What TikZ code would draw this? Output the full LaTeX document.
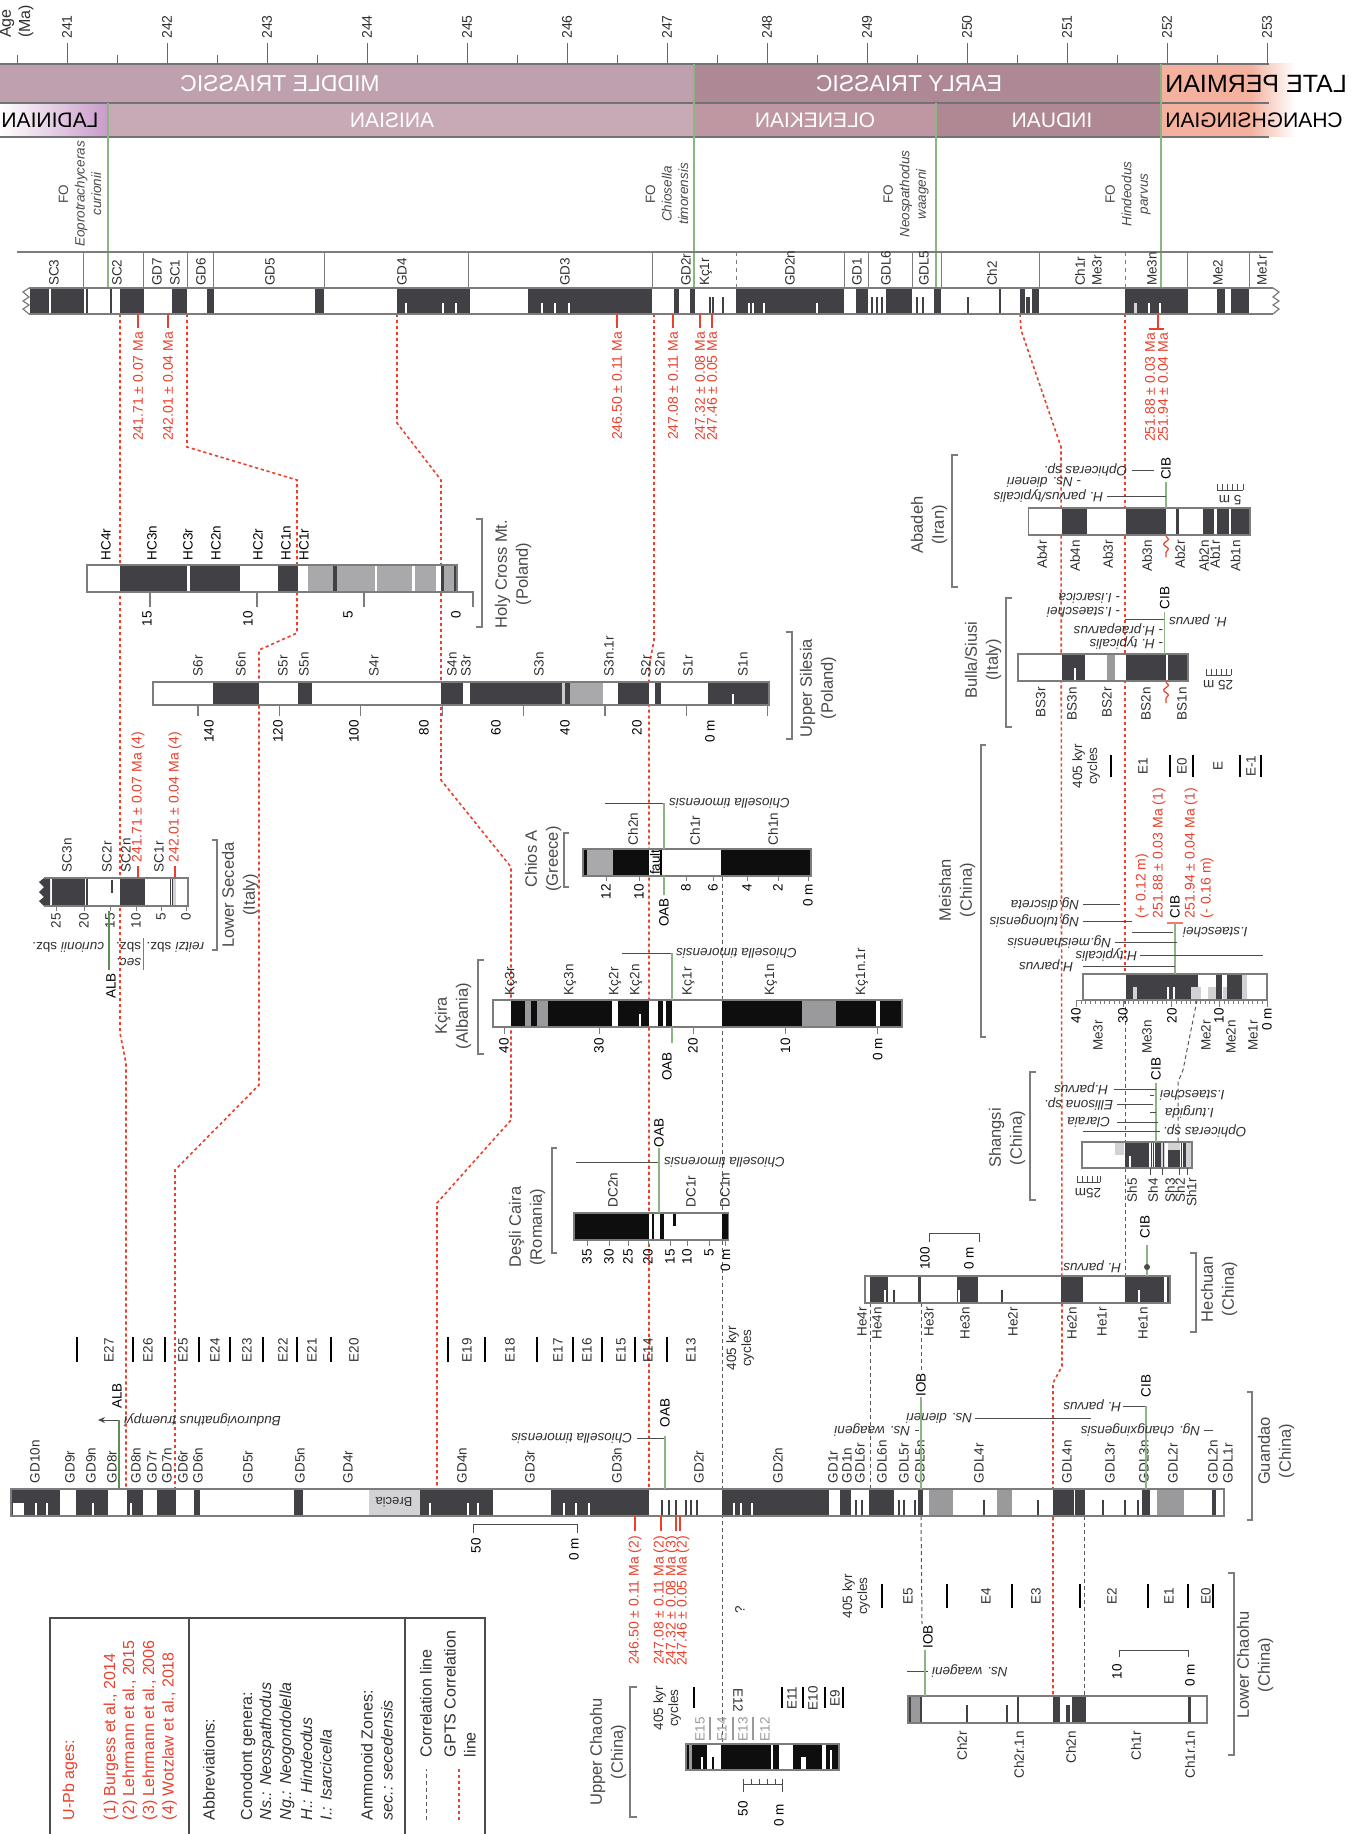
\documentclass[tikz,border=0pt]{standalone}
\usepackage{fontspec}
\setmainfont{Liberation Sans}
\usetikzlibrary{decorations.pathmorphing,arrows.meta}
\definecolor{blk}{HTML}{414145}
\definecolor{pblk}{HTML}{0E0E0E}
\definecolor{gry}{HTML}{A9A9AC}
\definecolor{mgry}{HTML}{9A9A9C}
\definecolor{lgry}{HTML}{D2D2D4}
\definecolor{outl}{HTML}{7C7C7C}
\definecolor{redc}{HTML}{E8412E}
\definecolor{grn}{HTML}{8DB584}
\definecolor{dgrn}{HTML}{5E8F52}
\definecolor{txtg}{HTML}{4A4A4A}
\definecolor{labc}{HTML}{303030}
\definecolor{mtri}{HTML}{BFA0AE}
\definecolor{anis}{HTML}{C8A9B6}
\definecolor{etri}{HTML}{AE8895}
\definecolor{olen}{HTML}{BE97A2}
\definecolor{indu}{HTML}{B08893}
\definecolor{perm}{HTML}{F3B19E}
\definecolor{ladi}{HTML}{C99AC9}
\newcount\zcnt
\newcommand\zT[3][]{\global\advance\zcnt by 1\relax\node[#1] (n\the\zcnt) at (#2) {#3};}
\newcommand\zblocks[4]{\foreach \a/\b in {#4}{\fill[#1] (\a,#2) rectangle (\b,#3);}}
\newcommand\zplines[5]{\foreach \a in {#5}{\fill[#1] (\a-#4,#2) rectangle (\a+#4,#3);}}
\newcommand\zbox[4]{\fill[white] (#1,#3) rectangle (#2,#4);}
\newcommand\zout[4]{\draw[outl,line width=0.6pt] (#1,#3) rectangle (#2,#4);}
\begin{document}
\begin{tikzpicture}[x=0.5pt,y=-0.5pt,
  every node/.style={inner sep=0pt, outer sep=0pt},
  xlab/.style={font=\fontsize{6.75}{7.5}\selectfont, text=labc},
  xup/.style={rotate=90, anchor=west},
  xdn/.style={rotate=90, anchor=east},
  xmid/.style={rotate=90},
  xsp/.style={rotate=180, font=\fontsize{6.75}{7.5}\selectfont\itshape, text=labc},
  xspl/.style={xsp, anchor=west},
  xspr/.style={xsp, anchor=east},
  xred/.style={font=\fontsize{7}{8}\selectfont, text=redc},
  xttl/.style={rotate=90, align=center, font=\fontsize{8.25}{10.5}\selectfont, text=txtg},
  xleg/.style={rotate=90, anchor=west, font=\fontsize{8}{9}\selectfont},
  gpts/.style={redc, line width=0.8pt, dash pattern=on 1.6pt off 1.4pt},
  corr/.style={black!65, line width=0.5pt, dash pattern=on 2pt off 1.5pt},
  brk/.style={outl, line width=0.6pt},
  grl/.style={grn, line width=0.6pt},
  mk/.style={black!70, line width=0.5pt},
]
\useasboundingbox (0,0) rectangle (1364,1834);
\fill[white] (0,0) rectangle (1364,1834);

% ================= HEADER =================
\fill[mtri] (0,64) rectangle (694,103);
\fill[etri] (694,64) rectangle (1161,103);
\fill[perm] (1161,64) rectangle (1250,137);
\shade[left color=perm, right color=white] (1250,64) rectangle (1295,137);
\shade[left color=white, right color=ladi] (0,103) rectangle (108,137);
\fill[anis] (108,103) rectangle (694,137);
\fill[olen] (694,103) rectangle (936,137);
\fill[indu] (936,103) rectangle (1161,137);
\draw[black!55, line width=0.9pt] (0,64) -- (1269,64) (0,103) -- (1269,103) (0,137) -- (1269,137);
\foreach \a in {241,...,253}{
  \draw[black!60, line width=0.5pt] ({67+100*(\a-241)},43) -- ({67+100*(\a-241)},64);
  \zT[rotate=90, font=\fontsize{7}{8}\selectfont, text=labc]{{67+100*(\a-241)},27}{\a}
}
\foreach \a in {240.5,241.5,...,252.5}{
  \draw[black!60, line width=0.5pt] ({67+100*(\a-241)},55) -- ({67+100*(\a-241)},64);
}
\zT[xup, font=\fontsize{8}{9}\selectfont, text=labc]{7,38}{Age}
\zT[xup, font=\fontsize{8}{9}\selectfont, text=labc]{26,38}{(Ma)}

\zT[xscale=-1, text=white, font=\fontsize{11.5}{12}\selectfont]{280,84}{MIDDLE TRIASSIC}
\zT[xscale=-1, text=white, font=\fontsize{11.5}{12}\selectfont]{909,84}{EARLY TRIASSIC}
\zT[xscale=-1, text=black, font=\fontsize{12.5}{13}\selectfont]{1256,84}{LATE PERMIAN}
\zT[xscale=-1, text=black, font=\fontsize{10.5}{11}\selectfont]{50,120}{LADINIAN}
\zT[xscale=-1, text=white, font=\fontsize{10.5}{11}\selectfont]{392,120}{ANISIAN}
\zT[xscale=-1, text=white, font=\fontsize{10.5}{11}\selectfont]{815,120}{OLENEKIAN}
\zT[xscale=-1, text=white, font=\fontsize{10.5}{11}\selectfont]{1052,120}{INDUAN}
\zT[xscale=-1, text=black, font=\fontsize{10.5}{11}\selectfont]{1254,120}{CHANGHSINGIAN}

\draw[grl] (108,103) -- (108,288) (694,64) -- (694,288) (936,103) -- (936,288) (1161,64) -- (1161,288);

\zT[xmid, align=center, font=\fontsize{6.75}{8.25}\selectfont, text=txtg]{80,194}{FO\\\textit{Eoprotrachyceras}\\\textit{curionii}}
\zT[xmid, align=center, font=\fontsize{6.75}{8.25}\selectfont, text=txtg]{667,194}{FO\\\textit{Chiosella}\\\textit{timorensis}}
\zT[xmid, align=center, font=\fontsize{6.75}{8.25}\selectfont, text=txtg]{906,194}{FO\\\textit{Neospathodus}\\\textit{waageni}}
\zT[xmid, align=center, font=\fontsize{6.75}{8.25}\selectfont, text=txtg]{1128,194}{FO\\\textit{Hindeodus}\\\textit{parvus}}

% ================= CORRELATION LINES =================
\draw[gpts] (120,314) -- (120,1033) -- (126,1063) -- (126,1489);
\draw[gpts] (187,314) -- (187,447) -- (297,480) -- (297,633) -- (259,650) -- (259,1085) -- (175,1170) -- (175,1489);
\draw[gpts] (397,314) -- (397,423) -- (441,480) -- (441,780) -- (511,867) -- (511,1120) -- (437,1203) -- (437,1489);
\draw[gpts] (654,314) -- (654,640) -- (649,667) -- (649,1489);
\draw[gpts] (1020,314) -- (1021,330) -- (1061,447) -- (1062,1366) -- (1053,1383) -- (1053,1696);
\draw[gpts] (1125,314) -- (1125,974);
\draw[corr] (722,849) -- (722,1744);
\draw[corr] (1125,1000) -- (1125,1276);
\draw[corr] (1197,1000) -- (1183,1070) -- (1178,1082) -- (1178,1142);
\draw[corr] (870,1303) -- (870,1489);
\draw[corr] (921,1303) -- (921,1372);
\draw[corr] (921,1516) -- (922,1624);
\draw[corr] (1084,1516) -- (1084,1696);

% ================= GPTS COLUMN =================
\draw[outl, line width=0.6pt] (17,252) -- (1273,252);
\foreach \x in {83.5,143.5,187.4,213.5,324,468.7,652,844,868,912,941,1039,1187,1249}{\draw[outl,line width=0.5pt] (\x,252) -- (\x,288);}
\draw[outl, line width=0.5pt, dash pattern=on 2pt off 2pt] (736,252) -- (736,288) (1125,252) -- (1125,288);
\zbox{29}{1273}{288}{314}
\zblocks{blk}{288}{314}{29.6/49,51/84,86/88,110/112,120/143.5,172/187,206.5/213.5,315/324,397/470,528/652,674/679,690/695,736/844,856/868,886/912,934/941,999/1001,1020/1025,1032/1039,1125/1188,1217/1225,1231/1249}
\zplines{white}{303}{314}{1.2}{406,443,456,542,555,569,749,753,764,817,1149,1160}
\zplines{blk}{297}{314}{0.8}{710,713,723,872,877,882,917,923,968,1027,1029}
\fill[lgry] (1134,303) rectangle (1137,314);
\draw[outl, line width=0.6pt] (29,288) -- (1273,288) (29,314) -- (1273,314);
\draw[outl, line width=0.6pt] (29,288) -- (23,292) -- (29,297) -- (23,301) -- (29,305) -- (23,309) -- (29,314);
\draw[outl, line width=0.6pt] (1273,288) -- (1279,292) -- (1273,297) -- (1279,301) -- (1273,305) -- (1279,309) -- (1273,314);
\foreach \x/\t in {54/SC3,117/SC2,157/GD7,175/SC1,201/GD6,270/GD5,402/GD4,565/GD3,686/GD2r,706/Kç1r,790/GD2n,857/GD1,886/GDL6,924/GDL5,992/Ch2,1080/Ch1r,1097/Me3r,1152/Me3n,1218/Me2,1262/Me1r}{\zT[xlab,xup]{\x,286}{\t}}

\foreach \x in {138,168,617,673,700,712}{\draw[redc, line width=0.6pt] (\x,314) -- (\x,328);}
\draw[redc,line width=0.6pt] (1158,314) -- (1158,329) (1149,329) -- (1164,329);
\zT[xred,xdn]{138,332}{241.71 ± 0.07 Ma}
\zT[xred,xdn]{168,332}{242.01 ± 0.04 Ma}
\zT[xred,xdn]{617,332}{246.50 ± 0.11 Ma}
\zT[xred,xdn]{673,332}{247.08 ± 0.11 Ma}
\zT[xred,xdn]{700,332}{247.32 ± 0.08 Ma}
\zT[xred,xdn]{712,332}{247.46 ± 0.05 Ma}
\zT[xred,xdn]{1150,333}{251.88 ± 0.03 Ma}
\zT[xred,xdn]{1163,333}{251.94 ± 0.04 Ma}

% ================= HOLY CROSS =================
\zbox{87}{457}{565}{592}
\zblocks{blk}{565}{592}{119.6/187,190.4/240,278/298,333/337,441/444,454/457}
\zblocks{gry}{565}{592}{308/333,337/375,377/412,415/436,444/454}
\zout{87}{457}{565}{592}
\foreach \x/\t in {106/HC4r,152/HC3n,188/HC3r,216/HC2n,258/HC2r,286/HC1n,304/HC1r}{\zT[xlab,xup,text=black]{\x,560}{\t}}
\draw[outl,line width=0.6pt] (457,592) -- (473,592) -- (473,607);
\foreach \x in {150,257,364}{\draw[outl,line width=0.6pt] (\x,592) -- (\x,607);}
\foreach \x/\t in {147/15,248/10,348/5,456/0}{\zT[xlab,xdn,text=black]{\x,611}{\t}}
\draw[brk] (476,519) -- (482,519) -- (482,627) -- (476,627);
\zT[xttl]{513,574}{Holy Cross Mt.\\(Poland)}

% ================= UPPER SILESIA =================
\zbox{153}{769}{682}{705}
\zblocks{blk}{682}{705}{213/259,298/312,441/463,470/562,565/570,618/649,655/661,708/769}
\zblocks{gry}{682}{705}{570/603}
\fill[gry!60] (562,682) rectangle (565,705);
\zplines{white}{694}{705}{1.2}{733}
\zout{153}{769}{682}{705}
\foreach \x/\t in {198/S6r,241/S6n,283/S5r,304/S5n,374/S4r,452/S4n,466/S3r,539/S3n,609/S3n.1r,646/S2r,660/S2n,688/S1r,743/S1n}{\zT[xlab,xup]{\x,676}{\t}}
\foreach \i in {0,...,7}{\draw[outl,line width=0.6pt] ({198+81.4*\i},705) -- ({198+81.4*\i},716);}
\foreach \x/\t in {209/140,278/120,354/100,424/80,496/60,565/40,637/20,710/0 m}{\zT[xlab,xdn,text=black]{\x,720}{\t}}
\draw[brk] (786,632) -- (792,632) -- (792,739) -- (786,739);
\zT[xttl]{818,688}{Upper Silesia\\(Poland)}

% ================= LOWER SECEDA =================
\zbox{44}{188}{878}{906}
\fill[blk] (44,878) -- (39,882) -- (44,887) -- (39,892) -- (44,897) -- (39,901) -- (44,906) -- (50,906) -- (50,878) -- cycle;
\zblocks{blk}{878}{906}{52/85,86/88,120/145,169.5/170.5,172/173}
\fill[blk] (111,880) rectangle (113,893);
\fill[lgry] (173,878) rectangle (176,906);
\draw[outl,line width=0.6pt] (44,878) -- (188,878) -- (188,906) -- (44,906);
\foreach \x/\t in {67/SC3n,107/SC2r,126/SC2n,159/SC1r}{\zT[xlab,xup]{\x,872}{\t}}
\draw[redc,line width=0.6pt] (138,866) -- (138,878) (175,866) -- (175,878);
\zT[xred,xup]{138,862}{241.71 ± 0.07 Ma (4)}
\zT[xred,xup]{175,862}{242.01 ± 0.04 Ma (4)}
\foreach \x/\t in {56/25,84/20,110/15,136/10,161/5,186/0}{\draw[outl,line width=0.5pt] (\x,906) -- (\x,911); \zT[xlab,xdn]{\x,913}{\t}}
\draw[dgrn,line width=0.7pt] (109,911) -- (109,970);
\draw[outl,line width=0.5pt] (143.5,938) -- (143.5,970);
\zT[xspl]{104,947}{curionii \textup{sbz.}}
\zT[xspl]{141,947}{\textup{sbz.}}
\zT[xspl]{141,962}{sec.}
\zT[xspl]{204,947}{reitzi \textup{sbz.}}
\zT[xlab,xmid,text=black]{111,986}{ALB}
\draw[brk] (212,840) -- (217,840) -- (217,950) -- (212,950);
\zT[xttl]{240,895}{Lower Seceda\\(Italy)}

% ================= CHIOS A =================
\zbox{583}{811}{849}{876}
\zblocks{pblk}{849}{876}{583/587,613/649,721/811}
\zblocks{gry}{849}{876}{587/613}
\draw[black, line width=0.6pt] (661,849) -- (661,876);
\zT[rotate=90, font=\fontsize{6.75}{7.5}\selectfont]{655,862}{fault}
\zout{583}{811}{849}{876}
\foreach \x/\t in {633/Ch2n,695/Ch1r,773/Ch1n}{\zT[xlab,xup]{\x,845}{\t}}
\foreach \x/\t in {606/12,639/10,686/8,713/6,747/4,778/2,808/0 m}{\draw[outl,line width=0.5pt] (\x,876) -- (\x,881); \zT[xlab,xdn,text=black]{\x,884}{\t}}
\draw[mk] (605,803) -- (665,803);
\zT[xspr]{669,803}{Chiosella timorensis}
\draw[grl] (664,803) -- (664,849) (664,876) -- (664,895);
\zT[xlab,xdn,text=black]{664,898}{OAB}
\draw[brk] (569,833) -- (564,833) -- (564,887) -- (569,887);
\zT[xttl]{543,859}{Chios A\\(Greece)}

% ================= KCIRA =================
\zbox{493}{902}{1000}{1027}
\zblocks{pblk}{1000}{1027}{511/525,531/537,548/612,618/649,658/663,666/672,722/802,836/876,880/902}
\zblocks{mgry}{1000}{1027}{525/531,537/548,802/836}
\zplines{white}{1014}{1027}{1}{640}
\zout{493}{902}{1000}{1027}
\foreach \x/\t in {511/Kç3r,570/Kç3n,615/Kç2r,636/Kç2n,688.5/Kç1r,771/Kç1n,862/Kç1n.1r}{\zT[xlab,xup]{\x,995}{\t}}
\foreach \x/\t in {504/40,599/30,693/20,785.5/10,877.6/0 m}{\draw[outl,line width=0.5pt] (\x,1027) -- (\x,1034); \zT[xlab,xdn,text=black]{\x,1038}{\t}}
\draw[mk] (622,953) -- (672,953);
\zT[xspr]{676,953}{Chiosella timorensis}
\draw[grl] (672,953) -- (672,1000) (672,1027) -- (672,1043);
\zT[xlab,xdn,text=black]{667,1052}{OAB}
\draw[brk] (484,960) -- (478,960) -- (478,1054) -- (484,1054);
\zT[xttl]{453,1016}{Kçira\\(Albania)}

% ================= DESLI CAIRA =================
\zbox{574}{728.5}{1213}{1240}
\zblocks{pblk}{1213}{1240}{574/649,652/654,660/664,722/728.5}
\fill[pblk] (673,1213) rectangle (676,1226);
\zout{574}{728.5}{1213}{1240}
\foreach \x/\t in {613/DC2n,691/DC1r,725/DC1n}{\zT[xlab,xup]{\x,1207}{\t}}
\foreach \x/\t in {587/35,609/30,628/25,648/20,670/15,687/10,709/5,725.5/0 m}{\draw[outl,line width=0.5pt] (\x,1240) -- (\x,1246); \zT[xlab,xdn,text=black]{\x,1249}{\t}}
\draw[mk] (576,1162) -- (659,1162);
\zT[xspr]{664,1162}{Chiosella timorensis}
\draw[grl] (659,1148) -- (659,1213);
\zT[xlab,xup,text=black]{659,1147}{OAB}
\draw[brk] (557,1148) -- (552,1148) -- (552,1253) -- (557,1253);
\zT[xttl]{527,1227}{Deşli Caira\\(Romania)}

% ================= ABADEH =================
\zbox{1028.5}{1250}{508}{535}
\zblocks{blk}{508}{535}{1062/1087,1126/1166,1176/1179,1202.5/1213.5,1217/1229,1231/1250}
\zout{1028.5}{1250}{508}{535}
\foreach \x/\t in {1042/Ab4r,1075/Ab4n,1108/Ab3r,1147/Ab3n,1180/Ab2r,1204/Ab2n,1215/Ab1r,1235.5/Ab1n}{\zT[xlab,xdn]{\x,540}{\t}}
\draw[redc, line width=0.6pt, decorate, decoration={snake, amplitude=1.2pt, segment length=5pt}] (1166,536) -- (1166,557);
\draw[grl] (1166,482) -- (1166,508);
\zT[xlab,xup,text=black]{1166,480}{CIB}
\draw[mk] (1107,496) -- (1166,496);
\zT[xspl]{1103,496}{H. parvus/typicalis}
\zT[xspl]{1081,482}{\textup{-} Ns. dieneri}
\zT[xspl]{1127,470}{Ophiceras sp.}
\draw[mk] (1132,470) -- (1154,470);
\draw[mk] (1217,490) -- (1243,490);
\foreach \x in {1217,1222,1227,1232,1237,1243}{\draw[mk] (\x,484) -- (\x,490);}
\zT[rotate=180, font=\fontsize{6.75}{7.5}\selectfont, text=labc]{1230,500}{5 m}
\draw[brk] (958,455) -- (952,455) -- (952,587) -- (958,587);
\zT[xttl]{929,525}{Abadeh\\(Iran)}

% ================= BULLA / SIUSI =================
\zbox{1018}{1188}{654}{681}
\zblocks{blk}{654}{681}{1062/1085,1126/1166,1167.5/1188}
\zblocks{mgry}{654}{681}{1107/1115}
\zplines{white}{668}{681}{1}{1075}
\zout{1018}{1188}{654}{681}
\foreach \x/\t in {1040.7/BS3r,1072/BS3n,1107/BS2r,1146/BS2n,1182/BS1n}{\zT[xlab,xdn]{\x,687}{\t}}
\draw[redc, line width=0.6pt, decorate, decoration={snake, amplitude=1.2pt, segment length=5pt}] (1166,682) -- (1166,703);
\draw[grl] (1164.6,612) -- (1164.6,654);
\zT[xlab,xup,text=black]{1164.6,609}{CIB}
\zT[xspl]{1120,598}{\textup{-} I.isarcica}
\zT[xspl]{1120,612}{\textup{-} I.staeschei}
\draw[mk] (1125,619) -- (1164,619);
\zT[xspr]{1169,621}{H. parvus}
\zT[xspl]{1163,630}{\textup{-} H.praeparvus}
\zT[xspl]{1163,643}{\textup{-} H. typicalis}
\draw[mk] (1206,675) -- (1231,675);
\foreach \x in {1206,1211,1216,1221,1226,1231}{\draw[mk] (\x,669) -- (\x,675);}
\zT[rotate=180, font=\fontsize{6.75}{7.5}\selectfont, text=labc]{1218,685}{25 m}
\draw[brk] (1012,598) -- (1006,598) -- (1006,727) -- (1012,727);
\zT[xttl]{983,660}{Bulla/Siusi\\(Italy)}

% ================= MEISHAN =================
\foreach \x/\t in {1143/E1,1182/E0,1218/E,1251/E-1}{\zT[xlab,xmid]{\x,766}{\t}}
\foreach \x in {1111,1170,1193,1240,1261}{\draw[black, line width=0.6pt] (\x,755) -- (\x,777);}
\zT[xlab,xmid,align=center]{1086,766}{405 kyr\\cycles}
\zbox{1083}{1267}{974}{1000}
\zblocks{blk}{974}{1000}{1126/1198,1216/1222,1227/1242}
\zblocks{lgry}{987}{1000}{1133/1137,1191/1201,1208/1216,1223/1227}
\zblocks{lgry}{974}{1000}{1242/1247}
\zplines{white}{987}{1000}{1}{1168,1174}
\zout{1083}{1267}{974}{1000}
\draw[outl,line width=0.5pt] (1076,1000) -- (1267,1000);
\foreach \i in {0,...,40}{\draw[outl,line width=0.4pt] ({1267-4.77*\i},1000) -- ({1267-4.77*\i},1004);}
\foreach \i in {0,10,20,30,40}{\draw[outl,line width=0.5pt] ({1267-4.77*\i},1000) -- ({1267-4.77*\i},1007);}
\foreach \x/\t in {1076/40,1123/30,1172/20,1219/10,1267/0 m}{\zT[xlab,xdn,text=black]{\x,1008}{\t}}
\foreach \x/\t in {1098/Me3r,1147/Me3n,1206/Me2r,1231/Me2n,1253/Me1r}{\zT[xlab,xdn]{\x,1020}{\t}}
\zT[xred,xup]{1142,918}{(+ 0.12 m)}
\zT[xred,xup]{1159,918}{251.88 ± 0.03 Ma (1)}
\zT[xlab,xup,text=black]{1175,918}{CIB}
\zT[xred,xup]{1191,918}{251.94 ± 0.04 Ma (1)}
\zT[xred,xup]{1207,918}{(- 0.16 m)}
\draw[redc!70, line width=1pt] (1167,923) -- (1183,923);
\draw[grl] (1175,923) -- (1175,974);
\draw[mk] (1083,904) -- (1120,904);
\zT[xspl]{1079,904}{Ng.discreta}
\draw[mk] (1083,921) -- (1132,921);
\zT[xspl]{1079,921}{Ng.tulongensis}
\draw[mk] (1132,932) -- (1173,932);
\zT[xspr]{1183,932}{I.staeschei}
\draw[mk] (1115,942) -- (1177,942);
\zT[xspl]{1111,942}{Ng.meishanensis}
\draw[mk] (1140,955) -- (1263,955);
\zT[xspl]{1137,955}{H.typicalis}
\draw[mk] (1083,966) -- (1175,966);
\zT[xspl]{1073,966}{H.parvus}
\draw[brk] (986,745) -- (981,745) -- (981,1037) -- (986,1037);
\zT[xttl]{957,890}{Meishan\\(China)}

% ================= SHANGSI =================
\zbox{1082}{1192}{1142}{1168}
\fill[lgry] (1115,1142) rectangle (1124,1155);
\zblocks{blk}{1142}{1168}{1125/1149,1155/1161,1183/1186}
\fill[blk] (1168,1150) rectangle (1180,1168);
\zblocks{lgry}{1142}{1168}{1161/1165,1186/1192}
\fill[lgry] (1168,1142) rectangle (1180,1150);
\zplines{blk}{1142}{1168}{0.4}{1151,1153,1163,1181}
\zplines{white}{1156}{1168}{0.8}{1130}
\zout{1082}{1192}{1142}{1168}
\foreach \x in {1150,1162,1179,1187}{\draw[mk] (\x,1168) -- (\x,1175);}
\foreach \x/\t in {1132/Sh5,1153/Sh4,1170/Sh3,1180/Sh2,1191.5/Sh1r}{\zT[xlab,xdn]{\x,1178}{\t}}
\draw[mk] (1077,1182) -- (1100,1182);
\foreach \x in {1077,1082,1087,1092,1097,1100}{\draw[mk] (\x,1176) -- (\x,1182);}
\zT[rotate=180, font=\fontsize{6.75}{7.5}\selectfont, text=labc]{1088,1193}{25m}
\draw[grl] (1156,1083) -- (1156,1142);
\zT[xlab,xup,text=black]{1156,1080}{CIB}
\draw[mk] (1114,1089) -- (1156,1089);
\zT[xspl]{1108,1089}{H.parvus}
\draw[mk] (1150,1095) -- (1154,1095);
\zT[xspr]{1160,1095}{I.staeschei}
\draw[mk] (1117,1104) -- (1153,1104);
\zT[xspl]{1113,1104}{Ellisona sp.}
\draw[mk] (1150,1112) -- (1156,1112);
\zT[xspr]{1165,1112}{I.turgida}
\draw[mk] (1117,1122) -- (1158,1122);
\zT[xspl]{1110,1122}{Claraia}
\draw[mk] (1083,1131) -- (1160,1131);
\zT[xspr]{1163,1131}{Ophiceras sp.}
\draw[brk] (1036,1072) -- (1030,1072) -- (1030,1200) -- (1036,1200);
\zT[xttl]{1007,1138}{Shangsi\\(China)}

% ================= HECHUAN =================
\zbox{865}{1170}{1276}{1303}
\zblocks{blk}{1276}{1303}{870/888,918/921,957/978,1061/1083,1125/1164,1167/1170}
\zplines{white}{1290}{1303}{1}{885,959,1139}
\zplines{blk}{1290}{1303}{1}{894,1002}
\zout{865}{1170}{1276}{1303}
\foreach \x/\t in {862/He4r,877/He4n,929/He3r,965/He3n,1013/He2r,1072/He2n,1102/He1r,1143/He1n}{\zT[xlab,xdn]{\x,1307}{\t}}
\draw[mk] (929,1242) -- (929,1233) -- (979,1233) -- (979,1242);
\zT[xlab,xdn,text=black]{925,1247}{100}
\zT[xlab,xdn,text=black]{969,1247}{0 m}
\draw[grl] (1147,1245) -- (1147,1276);
\fill[black!70] (1147,1267) circle (3);
\zT[xlab,xup,text=black]{1145,1238}{CIB}
\zT[xspl]{1121,1267}{H. parvus}
\draw[brk] (1190,1253) -- (1196,1253) -- (1196,1332) -- (1190,1332);
\zT[xttl]{1219,1289}{Hechuan\\(China)}

% ================= GUANDAO =================
\foreach \x in {77,133,165,199,230,263,297,331,448,485,537,573,602,635,667}{\draw[black, line width=0.6pt] (\x,1337) -- (\x,1362);}
\foreach \x/\t in {109/E27,148/E26,183/E25,215/E24,247/E23,283/E22,312/E21,354/E20,467/E19,510/E18,558/E17,587/E16,621/E15,648/E14,691/E13}{\zT[xlab,xmid]{\x,1350}{\t}}
\zT[xlab,xmid,align=center]{740,1348}{405 kyr\\cycles}
\zbox{11}{1224}{1489}{1516}
\zblocks{blk}{1489}{1516}{11/60,76/108,127/143,157/176,194/200,294/303,420/493,551/649,722/829,840/851,869/894,918/923,1053/1074,1075/1085,1142/1150,1212/1216}
\zblocks{mgry}{1489}{1516}{929/953,997/1012,1157/1184}
\fill[lgry] (369,1489) rectangle (420,1516);
\zblocks{white}{1503}{1516}{13/24}
\zplines{white}{1503}{1516}{1.1}{36,47,93,131,430,468,478,564,576,589,734,741,752}
\zplines{blk}{1500}{1516}{1}{662,669,676,686,691,697,856,862,899,904,915,984,1038,1103,1125,1138}
\zout{11}{1224}{1489}{1516}
\zT[rotate=180, font=\fontsize{6.5}{7}\selectfont, text=labc]{394,1502}{Brecia}
\foreach \x/\t in {35/GD10n,70/GD9r,91/GD9n,112/GD8r,136/GD8n,152/GD7r,167/GD7n,183/GD6r,198/GD6n,248/GD5r,300/GD5n,348/GD4r,462/GD4n,530/GD3r,617/GD3n,699/GD2r,778/GD2n,833/GD1r,847/GD1n,860/GDL6r,882/GDL6n,904/GDL5r,920/GDL5n,979/GDL4r,1067/GDL4n,1110/GDL3r,1144/GDL3n,1173/GDL2r,1213/GDL2n,1228/GDL1r}{\zT[xlab,xup]{\x,1483}{\t}}
\draw[mk] (473,1533) -- (473,1524) -- (577,1524) -- (577,1533);
\zT[xlab,xdn,text=black]{476,1538}{50}
\zT[xlab,xdn,text=black]{574,1538}{0 m}
\draw[mk, -{Stealth[length=3.5pt,width=3pt]}] (119,1420) -- (98,1420);
\zT[xspr]{124,1420}{Budurovignathus truempyi}
\draw[dgrn,line width=0.7pt] (119,1420) -- (119,1489);
\zT[xlab,xmid,text=black]{117,1396}{ALB}
\zT[xspl]{632,1438}{Chiosella timorensis}
\draw[mk] (637,1438) -- (665,1438);
\draw[grl] (665,1436) -- (665,1489);
\zT[xlab,xmid,text=black]{665,1413}{OAB}
\zT[xspl]{910,1430}{Ns. waageni}
\draw[mk] (915,1430) -- (919,1430);
\zT[xspl]{972,1418}{Ns. dieneri}
\draw[mk] (975,1418) -- (1091,1418);
\zT[xspl]{1121,1406}{H. parvus}
\draw[mk] (1123,1406) -- (1146,1406);
\draw[grl] (1146,1406) -- (1146,1489);
\zT[xlab,xmid,text=black]{1146,1386}{CIB}
\zT[xspl]{1200,1430}{Ng. changxingensis}
\draw[mk] (1204,1430) -- (1213,1430);
\zT[xlab,xmid,text=black]{921,1385}{IOB}
\draw[grl] (921,1397) -- (921,1489);
\foreach \x in {635,661,676,680}{\draw[redc, line width=0.6pt] (\x,1516) -- (\x,1531);}
\zT[xred,xdn]{635,1536}{246.50 ± 0.11 Ma (2)}
\zT[xred,xdn]{660,1536}{247.08 ± 0.11 Ma (2)}
\zT[xred,xdn]{672,1536}{247.32 ± 0.08 Ma (3)}
\zT[xred,xdn]{683,1536}{247.46 ± 0.05 Ma (2)}
\draw[brk] (1247,1392) -- (1252,1392) -- (1252,1520) -- (1247,1520);
\zT[xttl]{1276,1451}{Guandao\\(China)}

% ================= LOWER CHAOHU =================
\zT[xlab,xmid,align=center]{856,1596}{405 kyr\\cycles}
\foreach \x in {882,947,1012,1080,1148,1188,1213}{\draw[black, line width=0.6pt] (\x,1584) -- (\x,1608);}
\foreach \x/\t in {908/E5,986/E4,1036/E3,1112/E2,1169/E1,1206/E0}{\zT[xlab,xmid]{\x,1596}{\t}}
\zT[rotate=90, font=\fontsize{6.75}{7.5}\selectfont, text=labc]{740,1610}{?}
\zbox{908}{1207}{1696}{1723}
\zblocks{blk}{1696}{1723}{908/911,920/922,1017/1019,1053/1060,1072/1086,1188/1191}
\zblocks{mgry}{1696}{1723}{911/920}
\zplines{blk}{1705}{1723}{0.8}{967,1007,1067,1069}
\zout{908}{1207}{1696}{1723}
\foreach \x/\t in {962/Ch2r,1019/Ch2r.1n,1071/Ch2n,1136/Ch1r,1190/Ch1r.1n}{\zT[xlab,xdn]{\x,1731}{\t}}
\draw[mk] (1119,1657) -- (1119,1650) -- (1188,1650) -- (1188,1657);
\zT[xlab,xdn,text=black]{1117,1664}{10}
\zT[xlab,xdn,text=black]{1190,1664}{0 m}
\draw[mk] (907,1671) -- (928,1671);
\zT[xspr]{932,1671}{Ns. waageni}
\draw[grl] (925,1650) -- (925,1696);
\zT[xlab,xmid,text=black]{928,1637}{IOB}
\draw[brk] (1228,1573) -- (1234,1573) -- (1234,1755) -- (1228,1755);
\zT[xttl]{1255,1665}{Lower Chaohu\\(China)}

% ================= UPPER CHAOHU =================
\zT[xlab,xmid,align=center]{667,1708}{405 kyr\\cycles}
\draw[black, line width=0.6pt] (694,1687) -- (694,1708);
\foreach \x in {782,803,825,843}{\draw[black, line width=0.6pt] (\x,1687) -- (\x,1708);}
\zT[xlab,rotate=-90]{738,1700}{E12}
\foreach \x/\t in {792/E11,813/E10,835/E9}{\zT[xlab,xmid]{\x,1698}{\t}}
\foreach \x in {710,733,753}{\draw[black!40, line width=0.6pt] (\x,1717) -- (\x,1740);}
\foreach \x/\t in {700/E15,722/E14,743/E13,765/E12}{\zT[xlab,xmid,text=black!40]{\x,1729}{\t}}
\zbox{686}{839}{1744}{1770}
\zblocks{pblk}{1744}{1770}{686/689,692/707,721/771,773/779,793/822,826/839}
\zblocks{mgry}{1744}{1770}{689/692}
\zplines{white}{1757}{1770}{1}{702}
\zblocks{white}{1757}{1770}{801/806}
\zplines{pblk}{1757}{1770}{0.8}{713}
\zplines{white}{1750}{1770}{0.8}{831}
\zout{686}{839}{1744}{1770}
\draw[mk] (743,1784) -- (782,1784);
\foreach \x in {751,759,767,775}{\draw[mk] (\x,1779) -- (\x,1784);}
\draw[mk] (743,1779) -- (743,1792) (782,1779) -- (782,1792);
\zT[xlab,xdn,text=black]{743,1801}{50}
\zT[xlab,xdn,text=black]{779,1804}{0 m}
\draw[brk] (637,1687) -- (630,1687) -- (630,1817) -- (637,1817);
\zT[xttl]{608,1752}{Upper Chaohu\\(China)}

% ================= LEGEND =================
\draw[black!70, line width=0.9pt] (50,1840) -- (50,1618) -- (485,1618) -- (485,1840);
\draw[black!70, line width=0.9pt] (189,1618) -- (189,1840) (405,1618) -- (405,1840);
\zT[xleg,text=redc]{70,1820}{U-Pb ages:}
\zT[xleg,text=redc]{111,1820}{(1) Burgess et al., 2014}
\zT[xleg,text=redc]{130,1820}{(2) Lehrmann et al., 2015}
\zT[xleg,text=redc]{150,1820}{(3) Lehrmann et al., 2006}
\zT[xleg,text=redc]{169.5,1820}{(4) Wotzlaw et al., 2018}
\zT[xleg,text=labc]{209,1820}{Abbreviations:}
\zT[xleg,text=labc]{248,1820}{Conodont genera:}
\zT[xleg,text=labc]{267,1820}{\textit{Ns.: Neospathodus}}
\zT[xleg,text=labc]{287,1820}{\textit{Ng.: Neogondolella}}
\zT[xleg,text=labc]{306.5,1820}{\textit{H.: Hindeodus}}
\zT[xleg,text=labc]{326,1820}{\textit{I.: Isarcicella}}
\zT[xleg,text=labc]{367,1820}{Ammonoid Zones:}
\zT[xleg,text=labc]{387,1820}{\textit{sec.: secedensis}}
\draw[corr] (426,1820) -- (426,1769);
\zT[xleg,text=labc]{426,1757}{Correlation line}
\draw[gpts] (459,1820) -- (459,1769);
\zT[xleg,text=labc]{450,1757}{GPTS Correlation}
\zT[xleg,text=labc]{470,1757}{line}
\end{tikzpicture}
\end{document}
